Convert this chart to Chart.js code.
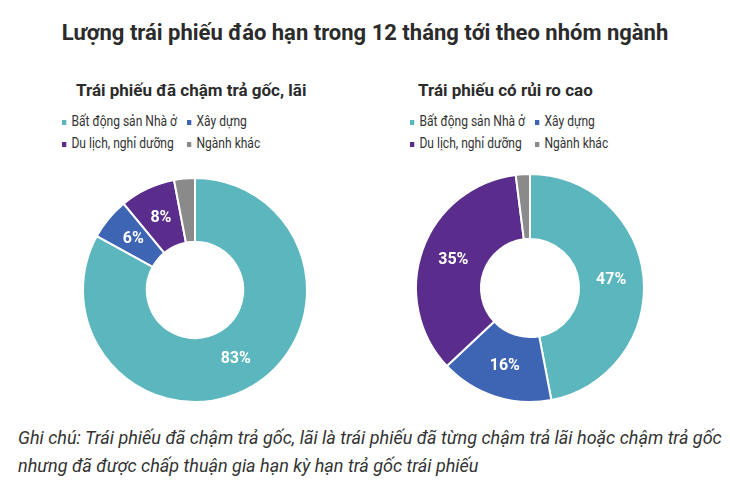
<!DOCTYPE html>
<html><head><meta charset="utf-8">
<script src="https://cdn.jsdelivr.net/npm/chart.js@4"></script>
<style>
body{margin:0;width:730px;height:488px;background:#fff;position:relative;font-family:"Liberation Sans Narrow","Roboto","DejaVu Sans Condensed",sans-serif;color:#222;overflow:hidden}
.abs{position:absolute}
#title{left:0;width:730px;top:20px;text-align:center;font-weight:bold;font-size:22px;color:#2b2b2b}
.sub{font-weight:bold;font-size:17px;color:#2b2b2b}
.leg{font-size:14px;color:#333;white-space:nowrap;transform:scaleX(0.86);transform-origin:left center}
.leg span.m{display:inline-block;width:5px;height:5px;margin-right:6px;vertical-align:middle}
#note{left:18px;top:424px;font-style:italic;font-size:18px;line-height:28px;color:#333}
canvas{position:absolute}
</style></head><body>
<div id="title" class="abs">Lượng trái phiếu đáo hạn trong 12 tháng tới theo nhóm ngành</div>
<div class="abs sub" style="left:76px;top:80px">Trái phiếu đã chậm trả gốc, lãi</div>
<div class="abs sub" style="left:418px;top:80px">Trái phiếu có rủi ro cao</div>
<canvas id="c1" width="240" height="240" style="left:75px;top:170px"></canvas>
<canvas id="c2" width="240" height="240" style="left:410px;top:168px"></canvas>
<div id="note" class="abs">Ghi chú: Trái phiếu đã chậm trả gốc, lãi là trái phiếu đã từng chậm trả lãi hoặc chậm trả gốc<br>nhưng đã được chấp thuận gia hạn kỳ hạn trả gốc trái phiếu</div>
<script>
var categories = ['Bất động sản Nhà ở', 'Xây dựng', 'Du lịch, nghỉ dưỡng', 'Ngành khác'];
var delayedValues = [83, 6, 8, 3];
var riskyValues = [47, 16, 35, 2];
var colors = ['#5bb7bd', '#3d65b4', '#5a2d8c', '#8a8a8a'];

function legend(left, top){
  var pos = [[0,0],[125,0],[0,22],[125,22]];
  for (var i=0; i<categories.length; i++){
    var d = document.createElement('div');
    d.className = 'abs leg';
    d.style.left = (left+pos[i][0])+'px';
    d.style.top = (top+pos[i][1])+'px';
    d.innerHTML = '<span class="m" style="background:'+colors[i]+'"></span>'+categories[i];
    document.body.appendChild(d);
  }
}
legend(62, 113);
legend(410, 113);

var labelPlugin = {
  id: 'pct',
  afterDatasetsDraw: function(chart){
    var ctx = chart.ctx;
    var meta = chart.getDatasetMeta(0);
    ctx.save();
    ctx.fillStyle = '#fff';
    ctx.font = 'bold 16px "Liberation Sans Narrow", Roboto, sans-serif';
    ctx.textAlign = 'center';
    ctx.textBaseline = 'middle';
    meta.data.forEach(function(arc, i){
      var v = chart.data.datasets[0].data[i];
      if (v < 5) return;
      var p = arc.tooltipPosition();
      ctx.fillText(v + '%', p.x, p.y);
    });
    ctx.restore();
  }
};

function makeChart(id, values, pad){
  new Chart(document.getElementById(id), {
    type: 'doughnut',
    data: { labels: categories, datasets: [{ data: values, backgroundColor: colors, borderColor: '#fff', borderWidth: 2 }] },
    options: {
      responsive: false, animation: false, cutout: '43%',
      layout: { padding: pad },
      plugins: { legend: { display: false }, tooltip: { enabled: false } }
    },
    plugins: [labelPlugin]
  });
}
makeChart('c1', delayedValues, 7);
makeChart('c2', riskyValues, 5);
</script>
</body></html>
